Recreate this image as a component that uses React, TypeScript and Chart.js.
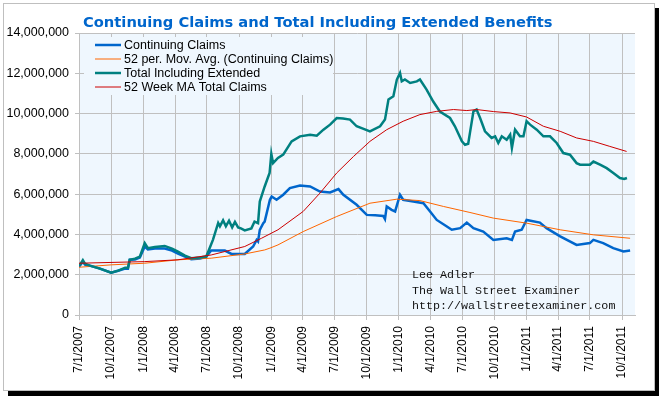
import React, { useEffect, useRef } from "react";
import { Chart, registerables } from "chart.js";

Chart.register(...registerables);

// x values are days since 7/1/2007
const quarterDays = [0, 92, 184, 275, 366, 458, 550, 640, 731, 823, 915, 1005, 1096, 1188, 1280, 1370, 1461, 1553];
const quarterLabels = [
  "7/1/2007", "10/1/2007", "1/1/2008", "4/1/2008", "7/1/2008", "10/1/2008",
  "1/1/2009", "4/1/2009", "7/1/2009", "10/1/2009", "1/1/2010", "4/1/2010",
  "7/1/2010", "10/1/2010", "1/1/2011", "4/1/2011", "7/1/2011", "10/1/2011",
];

const yTicks = [0, 2000000, 4000000, 6000000, 8000000, 10000000, 12000000, 14000000];

// Continuing Claims (millions)
const contDays = [0, 11, 17, 31, 60, 92, 112, 132, 140, 145, 160, 174, 188, 197, 217, 245, 266, 283, 303, 321, 346, 364, 378, 417, 436, 474, 498, 508, 512, 517, 527, 531, 546, 551, 565, 584, 603, 632, 661, 689, 718, 742, 756, 794, 823, 847, 870, 875, 880, 894, 904, 918, 927, 956, 985, 1004, 1023, 1052, 1066, 1090, 1109, 1128, 1156, 1185, 1223, 1238, 1247, 1266, 1280, 1318, 1337, 1376, 1423, 1461, 1471, 1499, 1528, 1557, 1576];
const contValues = [2.4, 2.65, 2.5, 2.45, 2.3, 2.1, 2.2, 2.3, 2.3, 2.74, 2.75, 2.85, 3.4, 3.25, 3.3, 3.3, 3.2, 3.05, 2.9, 2.77, 2.8, 2.9, 3.2, 3.2, 3.03, 3.03, 3.4, 3.73, 3.65, 4.23, 4.56, 4.64, 5.72, 5.88, 5.72, 5.97, 6.3, 6.43, 6.38, 6.13, 6.08, 6.25, 5.97, 5.47, 4.97, 4.95, 4.92, 4.76, 5.39, 5.22, 5.14, 5.97, 5.72, 5.63, 5.55, 5.14, 4.72, 4.39, 4.23, 4.31, 4.59, 4.31, 4.14, 3.73, 3.81, 3.73, 4.14, 4.23, 4.72, 4.59, 4.31, 3.9, 3.48, 3.57, 3.73, 3.57, 3.32, 3.15, 3.2];

// 52 per. Mov. Avg. (Continuing Claims) (millions)
const contMaDays = [0, 92, 188, 283, 378, 474, 531, 546, 569, 641, 737, 832, 909, 975, 1042, 1118, 1185, 1280, 1376, 1471, 1576];
const contMaValues = [2.37, 2.49, 2.57, 2.74, 2.82, 3.03, 3.23, 3.32, 3.48, 4.14, 4.89, 5.55, 5.75, 5.68, 5.39, 5.09, 4.81, 4.56, 4.23, 3.98, 3.81];

// Total Including Extended (millions)
const totalDays = [0, 3, 11, 17, 31, 60, 92, 112, 132, 140, 145, 160, 174, 188, 197, 217, 245, 266, 283, 303, 321, 346, 364, 383, 398, 403, 412, 420, 429, 438, 446, 455, 463, 474, 493, 502, 512, 517, 531, 545, 550, 555, 569, 584, 608, 632, 661, 680, 699, 718, 737, 755, 775, 794, 812, 832, 861, 875, 885, 899, 909, 918, 923, 932, 947, 966, 975, 994, 1013, 1032, 1061, 1075, 1095, 1104, 1113, 1118, 1128, 1137, 1147, 1161, 1180, 1190, 1199, 1209, 1223, 1233, 1238, 1247, 1261, 1271, 1280, 1290, 1309, 1328, 1347, 1366, 1385, 1404, 1423, 1433, 1461, 1471, 1490, 1509, 1528, 1547, 1559, 1567];
const totalValues = [2.45, 2.5, 2.72, 2.55, 2.45, 2.3, 2.1, 2.2, 2.35, 2.35, 2.74, 2.8, 2.9, 3.57, 3.32, 3.38, 3.43, 3.3, 3.15, 2.95, 2.82, 2.85, 2.9, 3.73, 4.57, 4.4, 4.7, 4.4, 4.68, 4.35, 4.62, 4.35, 4.3, 4.2, 4.3, 4.64, 4.56, 5.63, 6.38, 7.05, 8.0, 7.54, 7.8, 7.96, 8.62, 8.87, 8.95, 8.9, 9.2, 9.45, 9.78, 9.75, 9.7, 9.37, 9.25, 9.12, 9.37, 9.7, 10.7, 10.86, 11.69, 12.02, 11.6, 11.69, 11.52, 11.6, 11.69, 11.19, 10.6, 10.1, 9.78, 9.37, 8.62, 8.45, 8.5, 9.04, 10.11, 10.2, 9.78, 9.12, 8.79, 8.87, 8.54, 8.87, 8.7, 8.95, 8.29, 9.2, 8.87, 8.87, 9.62, 9.45, 9.2, 8.87, 8.87, 8.54, 8.04, 7.96, 7.54, 7.46, 7.46, 7.62, 7.46, 7.29, 7.05, 6.8, 6.75, 6.8];

// 52 Week MA Total Claims (millions)
const totalMaDays = [0, 188, 283, 378, 474, 522, 569, 641, 689, 737, 785, 832, 880, 927, 975, 1023, 1071, 1109, 1137, 1185, 1233, 1280, 1328, 1376, 1423, 1471, 1518, 1566];
const totalMaValues = [2.57, 2.65, 2.74, 2.98, 3.4, 3.81, 4.23, 5.14, 6.05, 7.05, 7.87, 8.62, 9.2, 9.62, 9.95, 10.11, 10.2, 10.15, 10.2, 10.1, 10.03, 9.83, 9.37, 9.12, 8.79, 8.62, 8.37, 8.12];

const titleText = "Continuing Claims and Total Including Extended Benefits";
const noteLines = ["Lee Adler", "The Wall Street Examiner", "http://wallstreetexaminer.com"];

const seriesNames = [
  "Continuing Claims",
  "52 per. Mov. Avg. (Continuing Claims)",
  "Total Including Extended",
  "52 Week MA Total Claims",
];
const seriesColors = ["#0066cc", "#ff6600", "#008080", "#cc0000"];
const seriesWidths = [2.5, 1, 2.5, 1];

const PLOT_BG = "#eff7fe";

function pts(days: number[], vals: number[]) {
  return days.map((d, i) => ({ x: d, y: vals[i] * 1e6 }));
}

export default function App() {
  const ref = useRef<HTMLCanvasElement | null>(null);

  useEffect(() => {
    if (!ref.current) return;
    const bgPlugin = {
      id: "plotBg",
      beforeDraw(chart: any) {
        const { ctx, chartArea } = chart;
        ctx.save();
        ctx.fillStyle = PLOT_BG;
        ctx.fillRect(chartArea.left, chartArea.top, chartArea.right - chartArea.left, chartArea.bottom - chartArea.top);
        ctx.restore();
      },
    };
    const overlayPlugin = {
      id: "overlay",
      afterDatasetsDraw(chart: any) {
        const { ctx } = chart;
        ctx.save();
        // legend box
        ctx.fillStyle = PLOT_BG;
        ctx.fillRect(84, 37, 249, 58);
        ctx.font = "12.5px 'Liberation Sans', Arial, sans-serif";
        ctx.textBaseline = "middle";
        ctx.textAlign = "left";
        seriesNames.forEach((name, i) => {
          const y = 45 + i * 14;
          ctx.strokeStyle = seriesColors[i];
          ctx.lineWidth = seriesWidths[i];
          ctx.beginPath();
          ctx.moveTo(95, y);
          ctx.lineTo(121, y);
          ctx.stroke();
          ctx.fillStyle = "#000";
          ctx.fillText(name, 124, y + 0.5);
        });
        // title
        ctx.font = "bold 14.7px 'DejaVu Sans', Verdana, sans-serif";
        ctx.textBaseline = "alphabetic";
        ctx.fillStyle = "#0066cc";
        ctx.fillText(titleText, 83, 27);
        // note
        ctx.font = "11.7px 'Liberation Mono', 'Courier New', monospace";
        ctx.fillStyle = "#111";
        noteLines.forEach((t, i) => ctx.fillText(t, 412, 278 + i * 15.7));
        ctx.restore();
      },
    };

    const datasets = [
      { data: pts(contDays, contValues), order: 4 },
      { data: pts(contMaDays, contMaValues), order: 3 },
      { data: pts(totalDays, totalValues), order: 2 },
      { data: pts(totalMaDays, totalMaValues), order: 1 },
    ].map((d, i) => ({
      label: seriesNames[i],
      data: d.data,
      order: d.order,
      borderColor: seriesColors[i],
      backgroundColor: seriesColors[i],
      borderWidth: seriesWidths[i],
      pointRadius: 0,
      tension: 0,
      fill: false,
    }));

    const chart = new Chart(ref.current, {
      type: "line",
      data: { datasets },
      options: {
        responsive: false,
        animation: false,
        devicePixelRatio: 1,
        layout: { padding: { top: 33, right: 24, left: 0, bottom: 0 } },
        plugins: { legend: { display: false }, tooltip: { enabled: false }, title: { display: false } },
        scales: {
          x: {
            type: "linear",
            min: 0,
            max: 1590,
            afterBuildTicks: (scale: any) => {
              scale.ticks = quarterDays.map((v) => ({ value: v }));
            },
            afterFit: (scale: any) => {
              scale.height = 81;
            },
            grid: { color: "#c0c0c0", lineWidth: 1, tickLength: 5, drawTicks: true },
            border: { color: "#c0c0c0" },
            ticks: {
              autoSkip: false,
              maxRotation: 90,
              minRotation: 90,
              padding: 6,
              color: "#000",
              font: { family: "'Liberation Sans', Arial, sans-serif", size: 12 },
              callback: (v: any) => {
                const i = quarterDays.indexOf(Number(v));
                return i >= 0 ? quarterLabels[i] : "";
              },
            },
          },
          y: {
            min: 0,
            max: 14000000,
            afterBuildTicks: (scale: any) => {
              scale.ticks = yTicks.map((v) => ({ value: v }));
            },
            afterFit: (scale: any) => {
              scale.width = 79;
            },
            grid: { color: "#c0c0c0", lineWidth: 1, tickLength: 4 },
            border: { color: "#c0c0c0" },
            ticks: {
              padding: 6,
              color: "#000",
              font: { family: "'Liberation Sans', Arial, sans-serif", size: 12.5 },
              callback: (v: any) => Number(v).toLocaleString("en-US"),
            },
          },
        },
      },
      plugins: [bgPlugin, overlayPlugin],
    } as any);
    return () => chart.destroy();
  }, []);

  return (
    <div style={{ position: "fixed", left: 0, top: 0, width: 659, height: 396, background: "#fff" }}>
      <div
        style={{
          position: "absolute",
          left: 3,
          top: 3,
          width: 650,
          height: 386,
          border: "1px solid #bfbfbf",
          boxShadow: "5px 5px 0 #000",
          background: "#fff",
        }}
      />
      <canvas ref={ref} width={659} height={396} style={{ position: "absolute", left: 0, top: 0 }} />
    </div>
  );
}
